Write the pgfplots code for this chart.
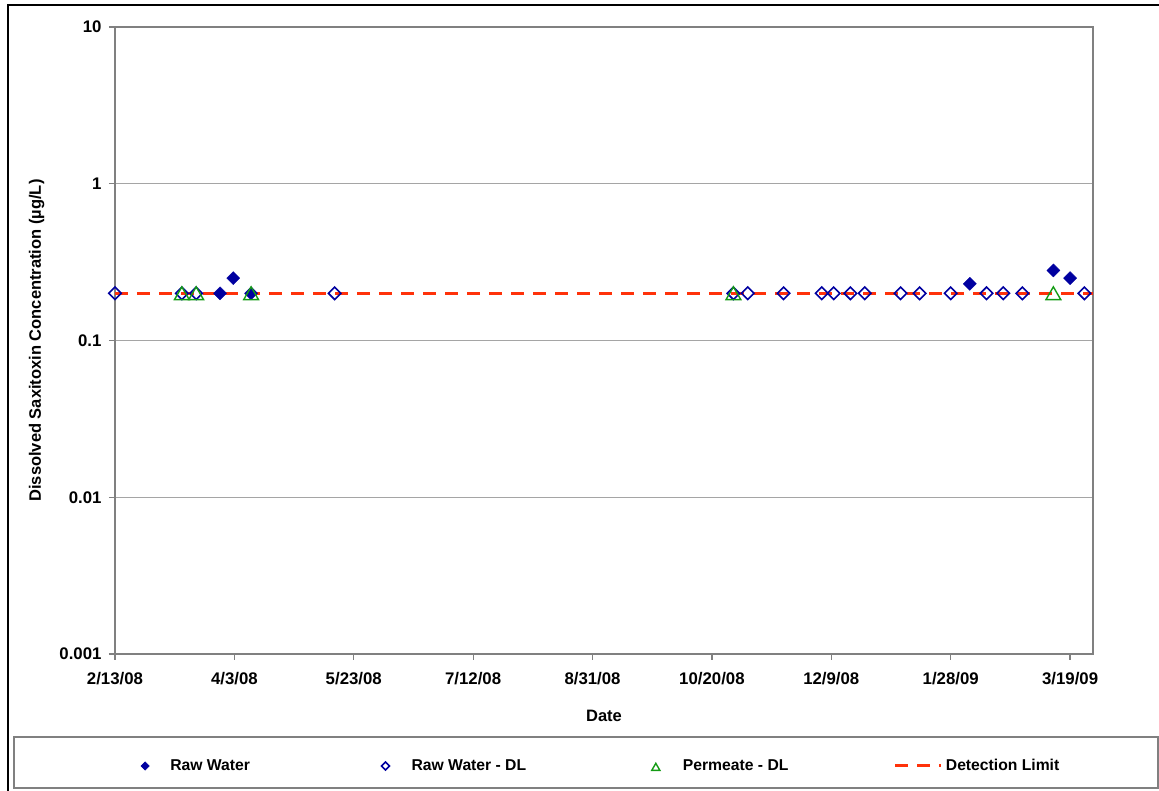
\documentclass[border=0pt]{standalone}
\usepackage{fontspec}
\setmainfont{Liberation Sans}
\usepackage{pgfplots}
\pgfplotsset{compat=1.18}
\definecolor{rwblue}{RGB}{0,0,160}
\definecolor{pgreen}{RGB}{20,155,20}
\definecolor{dlred}{RGB}{255,50,10}
\definecolor{axgray}{RGB}{128,128,128}
\definecolor{gridgray}{RGB}{165,165,165}
\pgfplotsset{
  markleg/.style={legend image code/.code={\path (0pt,0pt) (17pt,0pt);
    \draw[##1, every mark/.append style={scale=#1}] plot coordinates {(8.5pt,0pt)};}},
  lineleg/.style={legend image code/.code={\draw[##1] (0pt,0pt) -- (46pt,0pt);}},
}
\begin{document}
\begin{tikzpicture}[font=\fontsize{15.7}{18}\selectfont\bfseries]
\useasboundingbox (0pt,0pt) rectangle (1159pt,-791pt);
\draw[black,line width=2pt] (8pt,-793pt) -- (8pt,-5pt) -- (1161pt,-5pt);
\draw[axgray,line width=2pt] (14pt,-737pt) rectangle (1158pt,-788pt);
\begin{axis}[
  at={(115pt,-654pt)}, anchor=south west,
  scale only axis, width=978pt, height=627pt,
  xmin=0, xmax=409.6,
  ymode=log, ymin=0.001, ymax=10,
  xtick={0,50,...,400},
  xticklabels={2/13/08,4/3/08,5/23/08,7/12/08,8/31/08,10/20/08,12/9/08,1/28/09,3/19/09},
  ytick={0.001,0.01,0.1,1,10},
  yticklabels={0.001,0.01,0.1,1,10},
  yminorticks=false, xminorticks=false,
  tick align=outside, major tick length=6pt,
  xtick pos=left, ytick pos=left,
  every tick/.style={axgray, line width=1.2pt},
  axis line style={axgray, line width=1.8pt},
  ymajorgrids, grid style={gridgray, line width=1.2pt},
  tick label style={font=\fontsize{16.8}{19}\selectfont\bfseries},
  label style={font=\fontsize{16.5}{19}\selectfont\bfseries},
  xlabel={Date},
  ylabel={Dissolved Saxitoxin Concentration (µg/L)},
  xlabel style={at={(axis description cs:0.5,-0.099)}, anchor=center},
  ylabel style={at={(axis description cs:-0.08,0.5)}, anchor=center},
  xticklabel style={yshift=-8.5pt},
  yticklabel style={xshift=-4pt},
  legend columns=4,
  legend cell align=left,
  legend style={at={(axis description cs:0.022,-0.1786)}, anchor=west,
    draw=none, fill=none, inner sep=0pt, outer sep=0pt,
    column sep=0pt, row sep=0pt, nodes={inner sep=0pt}},
]
\addplot[only marks, mark=square*, mark size=4.6pt, color=rwblue,
  mark options={rotate=45, fill=rwblue, draw=rwblue}, markleg=0.65]
  coordinates {(44,0.2) (49.5,0.25) (57,0.2) (358,0.23) (393,0.28) (400,0.25)};
\addlegendentry{\makebox[222.9pt][l]{\hspace{16.4pt}Raw Water}}
\addplot[only marks, mark=square, mark size=4.4pt, color=rwblue,
  mark options={rotate=45, line width=1.6pt, draw=rwblue, fill=none}, markleg=0.65]
  coordinates {(0,0.2) (28,0.2) (34,0.2) (92,0.2) (259,0.2) (265,0.2) (280,0.2)
    (296,0.2) (301,0.2) (308,0.2) (314,0.2) (329,0.2) (337,0.2) (350,0.2)
    (365,0.2) (372,0.2) (380,0.2) (406,0.2)};
\addlegendentry{\makebox[252.9pt][l]{\hspace{17.4pt}Raw Water - DL}}
\addplot[only marks, mark=triangle, mark size=8.5pt, color=pgreen,
  mark options={line width=1.4pt, draw=pgreen, fill=none, yshift=-2pt}, markleg=0.55]
  coordinates {(28,0.2) (34,0.2) (57,0.2) (259,0.2) (393,0.2)};
\addlegendentry{\makebox[229.4pt][l]{\hspace{18.4pt}Permeate - DL}}
\addplot[dlred, line width=3pt, dash pattern=on 13pt off 9pt, no marks, lineleg]
  coordinates {(0,0.2) (409.6,0.2)};
\addlegendentry{\hspace{3pt}Detection Limit}
\end{axis}
\end{tikzpicture}
\end{document}
